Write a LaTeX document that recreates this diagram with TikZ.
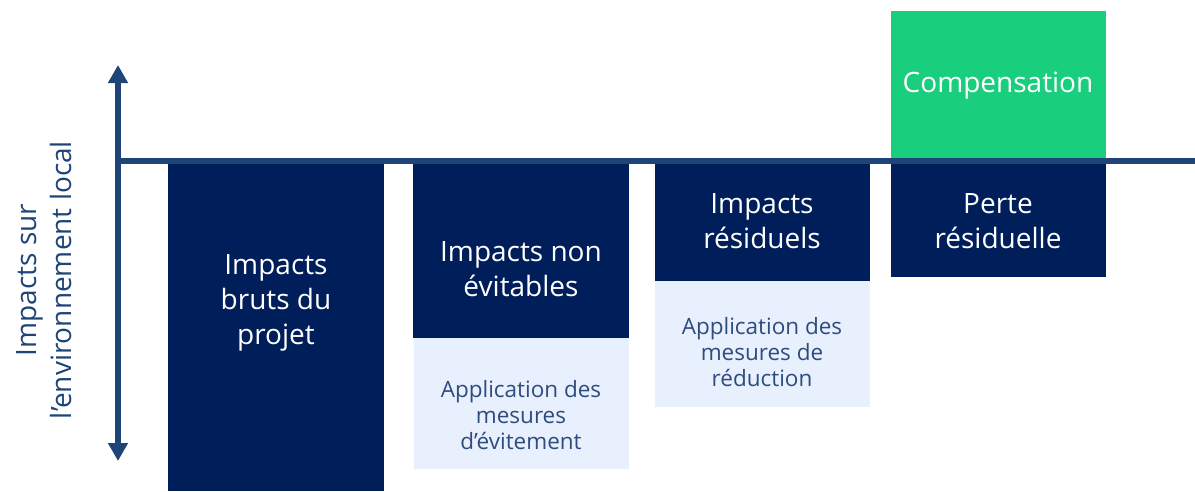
\documentclass[tikz,border=0pt]{standalone}
\usepackage{fontspec}
\setmainfont{Open Sans}
\usetikzlibrary{arrows.meta,positioning}
\definecolor{navy}{HTML}{001E5A}
\definecolor{axis}{HTML}{1F4478}
\definecolor{mint}{HTML}{19CE7C}
\definecolor{pale}{HTML}{E8EFFD}
\definecolor{paletext}{HTML}{2E4C7E}
\tikzset{
  darkbox/.style={fill=navy, draw=none, inner sep=0pt, anchor=north west},
  palebox/.style={fill=pale, draw=none, inner sep=0pt, anchor=north west},
  greenbox/.style={fill=mint, draw=none, inner sep=0pt, anchor=north west},
  biglabel/.style={text=white, align=center, font=\fontsize{28}{35}\selectfont, inner sep=0pt},
  smalllabel/.style={text=paletext, align=center, font=\fontsize{22.5}{26}\selectfont, inner sep=0pt},
  axisline/.style={draw=axis, line width=6pt},
}
\begin{document}
\begin{tikzpicture}[x=1pt,y=-1pt]
\useasboundingbox (0,0) rectangle (1195,491);
% boxes
\node[darkbox, minimum width=216pt, minimum height=328pt] (b1) at (168,163) {};
\node[darkbox, minimum width=216pt, minimum height=175pt] (b2) at (413,163) {};
\node[palebox, minimum width=215pt, minimum height=131pt] (p2) at (414,338) {};
\node[darkbox, minimum width=215pt, minimum height=118pt] (b3) at (655,163) {};
\node[palebox, minimum width=215pt, minimum height=126pt] (p3) at (655,281) {};
\node[greenbox, minimum width=215pt, minimum height=150pt] (g4) at (891,11) {};
\node[darkbox, minimum width=215pt, minimum height=114pt] (b4) at (891,163) {};
% labels
\node[biglabel] (t1) at (276,303) {Impacts\\bruts du\\projet};
\node[biglabel] (t2) at (521,269) {Impacts non\\évitables};
\node[smalllabel] (s2) at (521,415) {Application des\\mesures\\d’évitement};
\node[biglabel] (t3) at (762,221) {Impacts\\résiduels};
\node[smalllabel] (s3) at (762,352) {Application des\\mesures de\\réduction};
\node[biglabel] (t4) at (998,221) {Perte\\résiduelle};
\node[biglabel] (t5) at (998,86) {Compensation};
% axes
\coordinate (top) at (118,65);
\coordinate (bot) at (118,461);
\coordinate (origin) at (115,161);
\coordinate (right) at (1195,161);
\draw[axisline] (origin) -- (right);
\draw[axisline, {Triangle[width=19pt,length=18pt]}-{Triangle[width=19pt,length=18pt]}] (top) -- (bot);
\node[rotate=90, text=axis, align=center, font=\fontsize{28}{35}\selectfont, inner sep=0pt] (ylab) at (44,280) {Impacts sur\\l’environnement local};
\end{tikzpicture}
\end{document}
